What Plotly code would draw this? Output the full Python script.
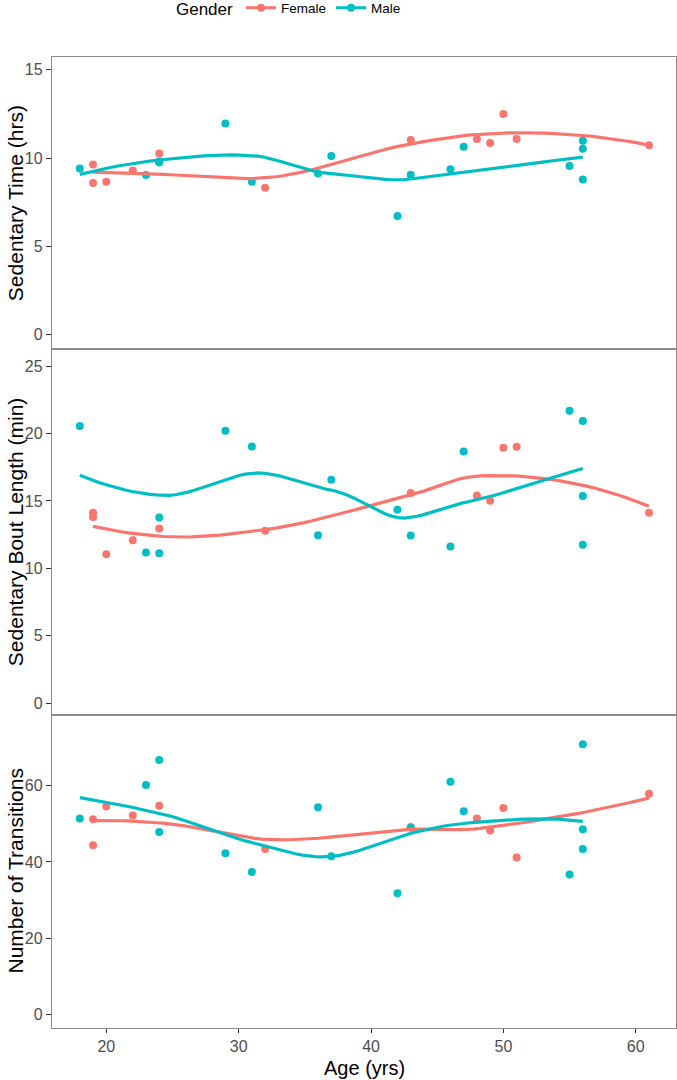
import numpy as np
import plotly.graph_objects as go
from plotly.subplots import make_subplots

# ---------------- data ----------------
female_age = [19, 19, 20, 22, 24, 32, 43, 48, 49, 50, 51, 61]
female_sed_time = [9.64, 8.59, 8.66, 9.30, 10.25, 8.32, 11.02, 11.08, 10.85, 12.49, 11.08, 10.72]
female_bout = [14.12, 13.80, 11.05, 12.09, 12.96, 12.79, 15.58, 15.41, 15.01, 18.95, 19.02, 14.12]
female_trans = [51.2, 44.4, 54.6, 52.2, 54.8, 43.4, 49.2, 51.4, 48.3, 54.2, 41.2, 57.9]

male_age = [18, 23, 24, 24, 29, 31, 36, 37, 42, 43, 46, 47, 55, 56, 56, 56]
male_sed_time = [9.40, 9.04, 9.74, 9.80, 11.95, 8.66, 9.12, 10.11, 6.72, 9.06, 9.36, 10.64, 9.55, 10.98, 10.53, 8.78]
male_bout = [20.55, 11.18, 13.78, 11.13, 20.21, 19.04, 12.46, 16.57, 14.35, 12.44, 11.62, 18.67, 21.69, 20.92, 15.36, 11.75]
male_trans = [51.4, 60.2, 66.8, 47.9, 42.3, 37.4, 54.4, 41.5, 31.8, 49.0, 61.1, 53.3, 36.7, 70.9, 48.6, 43.4]

panel_titles = ["Sedentary Time (hrs)", "Sedentary Bout Length (min)", "Number of Transitions"]
y_ticks = [[0, 5, 10, 15], [0, 5, 10, 15, 20, 25], [0, 20, 40, 60]]
x_ticks = [20, 30, 40, 50, 60]
gender_labels = ["Female", "Male"]

FEMALE_COL = "#F8766D"
MALE_COL = "#00BFC4"


def _local_fit(x, y, x0, q):
    d = np.abs(x - x0)
    h = np.sort(d)[q - 1]
    if h <= 0:
        h = 1e-9
    u = np.clip(d / h, 0, 1)
    w = (1 - u ** 3) ** 3
    X = np.column_stack([np.ones(len(x)), x - x0, (x - x0) ** 2])
    A = X.T @ (w[:, None] * X)
    b = X.T @ (w * y)
    beta = np.linalg.lstsq(A, b, rcond=None)[0]
    return beta[0], beta[1]


def loess(x, y, n_out=80, span=0.75, cell=0.2):
    """R-style loess (degree 2, tricube) with kd-tree vertices + cubic Hermite interpolation."""
    x = np.asarray(x, float)
    y = np.asarray(y, float)
    n = len(x)
    q = int(np.floor(n * span + 1e-5))
    fc = int(np.floor(n * span * cell))
    lo, hi = x.min(), x.max()
    mu = 0.005 * (hi - lo)
    verts = [lo - mu, hi + mu]

    def build(xs, vlo, vhi):
        L = len(xs)
        if L <= fc:
            return
        m = (1 + L) // 2 - 1
        off = 0
        while True:
            if m + off >= L - 1 or m + off < 0:
                break
            if xs[m + off] == xs[m + off + 1]:
                off = -off
                if off >= 0:
                    off += 1
            else:
                m = m + off
                break
        split = xs[m]
        if split == vlo or split == vhi:
            return
        verts.append(split)
        build(xs[:m + 1], vlo, split)
        build(xs[m + 1:], split, vhi)

    build(np.sort(x), verts[0], verts[1])
    verts = np.unique(np.array(verts))
    vals = []
    slopes = []
    for v in verts:
        a, s = _local_fit(x, y, v, q)
        vals.append(a)
        slopes.append(s)
    vals = np.array(vals)
    slopes = np.array(slopes)

    xs = np.linspace(lo, hi, n_out)
    out = []
    for xe in xs:
        i = np.searchsorted(verts, xe) - 1
        i = min(max(i, 0), len(verts) - 2)
        a, b = verts[i], verts[i + 1]
        hh = b - a
        t = (xe - a) / hh
        h00 = 2 * t ** 3 - 3 * t ** 2 + 1
        h10 = t ** 3 - 2 * t ** 2 + t
        h01 = -2 * t ** 3 + 3 * t ** 2
        h11 = t ** 3 - t ** 2
        out.append(h00 * vals[i] + h10 * hh * slopes[i] + h01 * vals[i + 1] + h11 * hh * slopes[i + 1])
    return xs, np.array(out)


fig = make_subplots(rows=3, cols=1, shared_xaxes=True, vertical_spacing=0,
                    row_heights=[292.3, 365.7, 313])

panels = [
    (female_sed_time, male_sed_time),
    (female_bout, male_bout),
    (female_trans, male_trans),
]

for i, (fv, mv) in enumerate(panels):
    row = i + 1
    for ages, vals, col in [(female_age, fv, FEMALE_COL), (male_age, mv, MALE_COL)]:
        fig.add_trace(go.Scatter(x=ages, y=vals, mode="markers",
                                 marker=dict(color=col, size=8),
                                 showlegend=False, hoverinfo="x+y"), row=row, col=1)
    for ages, vals, col in [(female_age, fv, FEMALE_COL), (male_age, mv, MALE_COL)]:
        xs, ys = loess(ages, vals)
        fig.add_trace(go.Scatter(x=xs, y=ys, mode="lines",
                                 line=dict(color=col, width=3.2),
                                 showlegend=False, hoverinfo="skip"), row=row, col=1)

# legend entries
for name, col in zip(gender_labels, [FEMALE_COL, MALE_COL]):
    fig.add_trace(go.Scatter(x=[None], y=[None], mode="lines+markers", name=name,
                             line=dict(color=col, width=3.2),
                             marker=dict(color=col, size=8)), row=1, col=1)

axis_common = dict(showline=True, mirror=True, linecolor="#8c8c8c", linewidth=1.3,
                   showgrid=False, zeroline=False, automargin=False,
                   tickfont=dict(size=16, color="#4d4d4d"))

y_ranges = [[-0.83, 15.72], [-0.87, 26.24], [-3.6, 78.6]]
for i in range(3):
    row = i + 1
    fig.update_yaxes(row=row, col=1, range=y_ranges[i], tickvals=y_ticks[i],
                     ticks="outside", ticklen=5, tickcolor="#333333", tickwidth=1.2,
                     **axis_common)
    if row < 3:
        fig.update_xaxes(row=row, col=1, range=[15.9, 63.04], tickvals=x_ticks,
                         ticks="", showticklabels=False, **axis_common)
    else:
        fig.update_xaxes(row=row, col=1, range=[15.9, 63.04], tickvals=x_ticks,
                         ticks="outside", ticklen=4, tickcolor="#333333", tickwidth=1.2,
                         **axis_common)

annotations = []
for i, t in enumerate(panel_titles):
    yref = "y domain" if i == 0 else f"y{i + 1} domain"
    annotations.append(dict(text=t, xref="paper", x=0, xanchor="center", xshift=-37,
                            yref=yref, y=0.5, yanchor="middle", textangle=-90,
                            showarrow=False, font=dict(size=21, color="black")))
annotations.append(dict(text="Age (yrs)", xref="paper", x=0.5, xanchor="center",
                        yref="paper", y=0, yanchor="middle", yshift=-40,
                        showarrow=False, font=dict(size=20, color="black")))

fig.update_layout(
    width=677, height=1080,
    margin=dict(l=52, r=1, t=57, b=52, autoexpand=False),
    plot_bgcolor="white", paper_bgcolor="white",
    font=dict(family="Liberation Sans, Arial, sans-serif"),
    annotations=annotations,
    legend=dict(orientation="h", xref="container", yref="container",
                x=0.257, xanchor="left", y=0.9917, yanchor="middle",
                title=dict(text="Gender", font=dict(size=17, color="black")),
                font=dict(size=13.5, color="black"), itemwidth=30),
)

fig.write_html("out.html", config={"displayModeBar": False},
               post_script="document.body.style.margin='0';")
